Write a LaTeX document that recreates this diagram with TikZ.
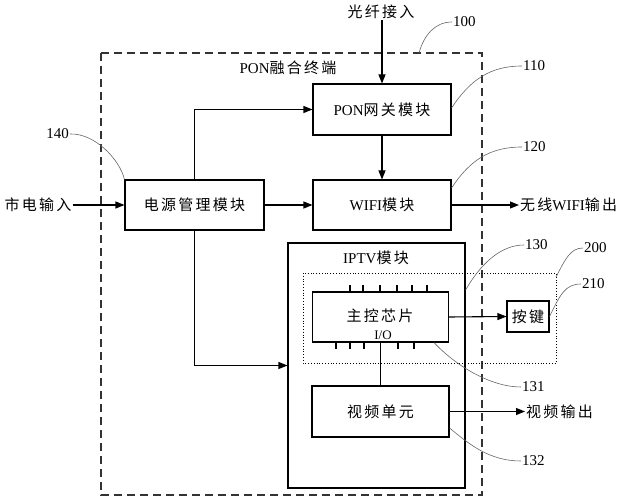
\documentclass[tikz,border=0pt]{standalone}
\usepackage{fontspec}
\setmainfont{Liberation Serif}
\newfontfamily\cjk[LetterSpace=15]{Noto Sans CJK SC}
\usetikzlibrary{arrows.meta}
\begin{document}
\begin{tikzpicture}[x=1pt,y=-1pt,
  font=\fontsize{15}{18}\selectfont,
  box/.style={draw,line width=1.1pt,inner sep=0pt,minimum width=#1},
  box/.default=138pt,
  txt/.style={inner sep=1pt},
  arr/.style={line width=1.1pt,-{Triangle[length=9pt,width=7pt]}},
  ln/.style={line width=1.1pt},
  lead/.style={draw=black!60,line width=0.6pt},
  num/.style={inner sep=1pt,font=\fontsize{15}{18}\selectfont}]
\useasboundingbox (0,0) rectangle (632,500);
% frames
\draw[line width=1.1pt,dash pattern=on 8pt off 5pt,draw=black!80] (101,53) rectangle (482,495);
\node[txt] (term) at (288,68) {PON{\cjk 融合终端}};
\node[box=177pt,minimum height=245pt] (iptv) at (376.5,365.5) {};
\node[txt] (iptvl) at (376,258) {IPTV{\cjk 模块}};
\draw[line width=0.8pt,dotted] (303,273) rectangle (556,363);
% boxes
\node[box,minimum height=51pt] (pon) at (382,109.5) {PON{\cjk 网关模块}};
\node[box,minimum height=50pt] (wifi) at (382,205) {WIFI{\cjk 模块}};
\node[box=139pt,minimum height=50pt] (power) at (194.5,205) {\cjk 电源管理模块};
\node[box=136pt,minimum height=50pt] (chip) at (380.5,317) {};
\node[txt] (chipl) at (380,316) {\cjk 主控芯片};
\node[txt,font=\fontsize{13}{15}\selectfont] (io) at (383,335) {I/O};
\node[box=42pt,minimum height=31pt] (key) at (528,316.5) {\cjk 按键};
\node[box=137pt,minimum height=51pt] (video) at (380.5,411.5) {\cjk 视频单元};
% pins
\foreach \px in {350,363,380,397,412,427} \draw[ln] (\px,285) -- (\px,292);
\foreach \px in {336,350,364,398,414} \draw[ln] (\px,342) -- (\px,349);
% external texts
\node[txt] (fiber) at (381,12) {\cjk 光纤接入};
\node[txt] (mains) at (38,205) {\cjk 市电输入};
\node[txt,anchor=west] (wout) at (519,205) {{\cjk 无线}WIFI{\cjk 输出}};
\node[txt,anchor=west] (vout) at (525,411.5) {\cjk 视频输出};
% connectors
\draw[arr] (fiber.south -| pon.north) -- (pon.north);
\draw[arr] (pon.south) -- (wifi.north);
\draw[arr] (mains.east) -- (power.west);
\draw[arr] (power.east) -- (wifi.west);
\draw[arr] (power.north) |- (pon.west);
\draw[arr] (power.south) |- (iptv.west);
\draw[arr] (wifi.east) -- (wout.west);
\draw[arr] (chip.east) -- (key.west);
\draw[ln] (chip.south) -- (chip.south |- video.north);
\draw[arr] (video.east) -- (vout.west);
% reference numbers
\node[num,anchor=west] (n100) at (452,22) {100};
\node[num,anchor=west] (n110) at (522,66) {110};
\node[num,anchor=west] (n120) at (522,147) {120};
\node[num,anchor=east] (n140) at (70,134) {140};
\node[num,anchor=west] (n130) at (524,245) {130};
\node[num,anchor=west] (n200) at (583,248) {200};
\node[num,anchor=west] (n210) at (581,284) {210};
\node[num,anchor=west] (n131) at (521,387) {131};
\node[num,anchor=west] (n132) at (521,461) {132};
\coordinate (c100) at (419,53);
\coordinate (c200) at (556,277);
\draw[lead] (c100) .. controls (424,35) and (435,22) .. (n100.west);
\draw[lead] (pon.east |- 0,108) .. controls (470,80) and (490,66) .. (n110.west);
\draw[lead] (wifi.east |- 0,188) .. controls (470,160) and (490,147) .. (n120.west);
\draw[lead] (n140.east) .. controls (95,133) and (120,160) .. (power.north west);
\draw[lead] (iptv.east |- 0,290) .. controls (480,265) and (500,245) .. (n130.west);
\draw[lead] (c200) .. controls (565,260) and (570,248) .. (n200.west);
\draw[lead] (key.east) .. controls (560,295) and (565,284) .. (n210.west);
\draw[lead] (chip.south -| 434,0) .. controls (455,365) and (490,387) .. (n131.west);
\draw[lead] (video.east |- 0,428) .. controls (470,445) and (490,461) .. (n132.west);
\end{tikzpicture}
\end{document}
